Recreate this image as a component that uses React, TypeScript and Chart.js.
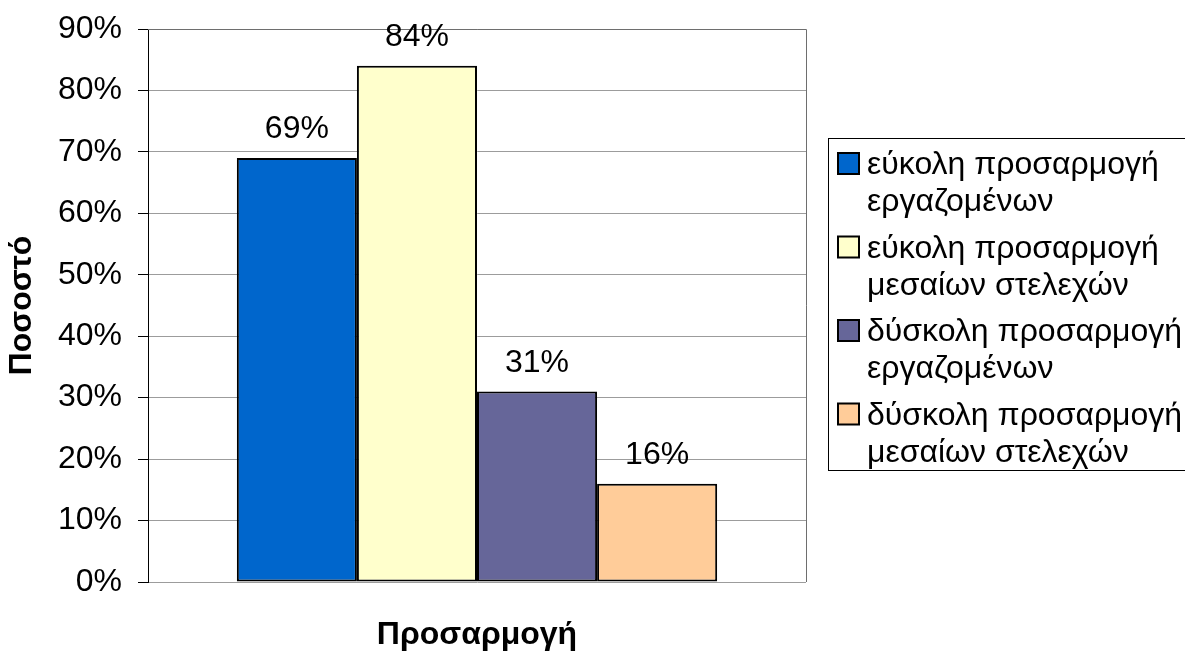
import React, { useEffect, useRef } from "react";
import { Chart, registerables } from "chart.js";

Chart.register(...registerables);

const categories: string[] = ["Προσαρμογή"];
const seriesNames: string[][] = [
  ["εύκολη προσαρμογή", "εργαζομένων"],
  ["εύκολη προσαρμογή", "μεσαίων στελεχών"],
  ["δύσκολη προσαρμογή", "εργαζομένων"],
  ["δύσκολη προσαρμογή", "μεσαίων στελεχών"],
];
const seriesValues: number[] = [69, 84, 31, 16];
const seriesColors: string[] = ["#0066CC", "#FFFFCC", "#666699", "#FFCC99"];
const yTicks: number[] = [0, 10, 20, 30, 40, 50, 60, 70, 80, 90];
const yTitle = "Ποσοστό";
const xTitle = "Προσαρμογή";

const FONT = "'Liberation Sans', Arial, sans-serif";
const FS = 32;

const labelPlugin = {
  id: "valueLabels",
  afterDatasetsDraw(chart: any) {
    const ctx = chart.ctx;
    ctx.save();
    ctx.font = `${FS}px ${FONT}`;
    ctx.fillStyle = "#000";
    ctx.textAlign = "center";
    ctx.textBaseline = "alphabetic";
    chart.data.datasets.forEach((ds: any, i: number) => {
      const meta = chart.getDatasetMeta(i);
      meta.data.forEach((el: any, j: number) => {
        ctx.fillText(`${ds.data[j]}%`, el.x, el.y - 20);
      });
    });
    ctx.restore();
  },
};

const framePlugin = {
  id: "frame",
  beforeDatasetsDraw(chart: any) {
    const { ctx, chartArea } = chart;
    ctx.save();
    ctx.strokeStyle = "#6e6e6e";
    ctx.lineWidth = 1;
    ctx.beginPath();
    ctx.moveTo(chartArea.left, chartArea.top + 0.5);
    ctx.lineTo(chartArea.right + 0.5, chartArea.top + 0.5);
    ctx.lineTo(chartArea.right + 0.5, chartArea.bottom);
    ctx.stroke();
    ctx.restore();
  },
};

const legendPlugin = {
  id: "sideLegend",
  afterDraw(chart: any) {
    const ctx = chart.ctx;
    const boxLeft = 828.5;
    const boxTop = 138.5;
    const boxBottom = 470.5;
    ctx.save();
    ctx.strokeStyle = "#000";
    ctx.lineWidth = 1;
    ctx.strokeRect(boxLeft, boxTop, 1190 - boxLeft, boxBottom - boxTop);
    ctx.font = `${FS}px ${FONT}`;
    ctx.textAlign = "left";
    ctx.textBaseline = "alphabetic";
    chart.data.datasets.forEach((ds: any, i: number) => {
      const base = 174 + i * 83.5;
      ctx.fillStyle = ds.backgroundColor;
      ctx.fillRect(838, base - 21, 21, 21);
      ctx.strokeStyle = "#000";
      ctx.lineWidth = 2;
      ctx.strokeRect(838, base - 21, 21, 21);
      ctx.fillStyle = "#000";
      const lines: string[] = seriesNames[i];
      lines.forEach((t, k) => ctx.fillText(t, 867, base + k * 37));
    });
    ctx.restore();
  },
};

export default function App() {
  const ref = useRef<HTMLCanvasElement | null>(null);
  useEffect(() => {
    if (!ref.current) return;
    const chart = new Chart(ref.current, {
      type: "bar",
      data: {
        labels: categories,
        datasets: seriesValues.map((v, i) => ({
          label: seriesNames[i].join(" "),
          data: [v],
          backgroundColor: seriesColors[i],
          borderColor: "#000",
          borderWidth: 2,
          borderSkipped: false,
          categoryPercentage: 0.73,
          barPercentage: 1,
        })),
      },
      options: {
        animation: false,
        responsive: false,
        maintainAspectRatio: false,
        layout: { padding: { left: 0, top: 29, right: 379, bottom: 0 } },
        plugins: {
          legend: { display: false },
          tooltip: { enabled: false },
        },
        scales: {
          x: {
            grid: { display: false, drawTicks: false },
            border: { display: false },
            ticks: { display: false },
            title: {
              display: true,
              text: xTitle,
              color: "#000",
              font: { family: FONT, size: FS, weight: "bold" },
              padding: { top: 0, bottom: 0 },
            },
            afterFit(scale: any) {
              scale.height = 72;
              scale.paddingLeft = 0;
              scale.paddingRight = 0;
            },
          },
          y: {
            min: 0,
            max: 90,
            afterBuildTicks(scale: any) {
              scale.ticks = yTicks.map((v) => ({ value: v }));
            },
            ticks: {
              color: "#000",
              padding: 16,
              font: { family: FONT, size: FS },
              callback: (v: any) => `${v}%`,
            },
            grid: {
              color: "#9c9c9c",
              tickColor: "#000",
              tickLength: 10,
              lineWidth: 1,
            },
            border: { display: true, color: "#000", width: 1 },
            title: {
              display: true,
              text: yTitle,
              color: "#000",
              font: { family: FONT, size: FS, weight: "bold" },
              padding: { top: 3, bottom: 0 },
            },
            afterFit(scale: any) {
              scale.width = 148;
              scale.paddingTop = 0;
              scale.paddingBottom = 0;
            },
          },
        },
      },
      plugins: [framePlugin, labelPlugin, legendPlugin],
    });
    return () => chart.destroy();
  }, []);
  return (
    <div style={{ position: "fixed", left: 0, top: 0, width: 1185, height: 654, background: "#fff" }}>
      <canvas ref={ref} width={1185} height={654} style={{ width: 1185, height: 654 }} />
    </div>
  );
}
